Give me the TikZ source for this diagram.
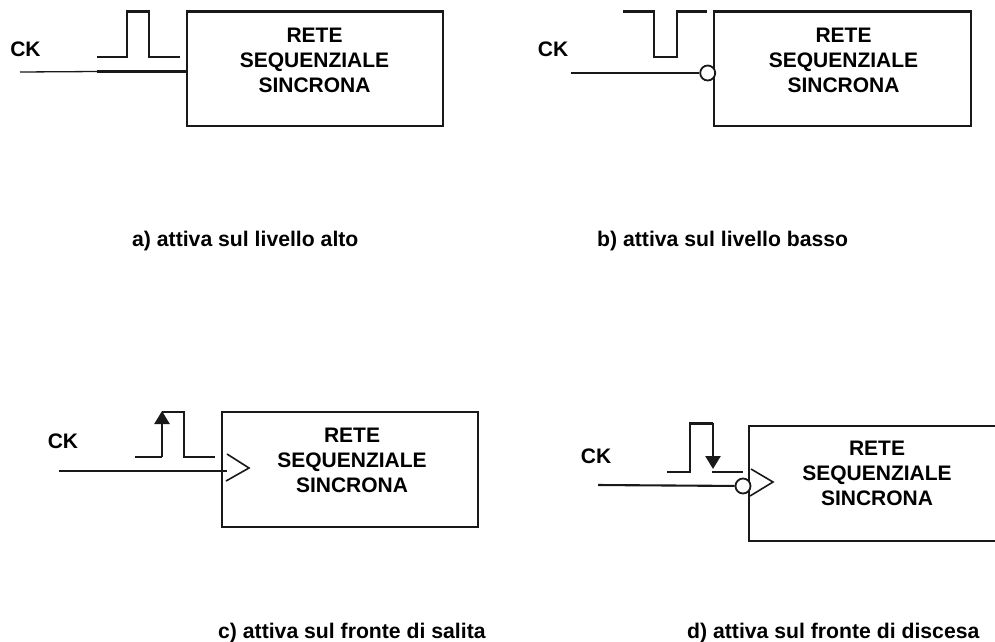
\documentclass[tikz,border=0pt]{standalone}
\usepackage{fontspec}
\setmainfont{Liberation Sans}
\usetikzlibrary{arrows.meta}
\tikzset{
  x=1pt,y=-1pt,
  wire/.style={draw=black!90,line width=2.1pt},
  thinwire/.style={draw=black!90,line width=1.3pt},
  slopewire/.style={draw=black!90,line width=1.6pt},
  netbox/.style={draw=black!90,line width=2.1pt},
  nettext/.style={align=center,font=\fontsize{21}{25}\selectfont\bfseries,inner sep=0pt},
  cklabel/.style={font=\fontsize{21}{25}\selectfont\bfseries,inner sep=0pt},
  caption/.style={font=\fontsize{21.2}{25}\selectfont\bfseries,inner sep=0pt,anchor=west},
  bubble/.style={circle,draw=black!90,fill=white,line width=1.8pt,minimum size=15pt,inner sep=0pt},
  edgearrow/.style={draw=black!90,line width=2.4pt,-{Triangle[length=13pt,width=15pt]}}
}
\begin{document}
\begin{tikzpicture}
\useasboundingbox (0,0) rectangle (995,641);
% a
\draw[netbox] (187,11.5) rectangle (442.7,126);
\node[nettext] (ta) at (314.5,60) {RETE\\SEQUENZIALE\\SINCRONA};
\node[cklabel] (cka) at (25.5,49) {CK};
\coordinate (a0) at (20,72);
\coordinate (a1) at (97,71.5);
\coordinate (a2) at (187,71.5);
\draw[thinwire] (a0) -- (a1);
\draw[wire] (a1) -- (a2);
\draw[wire] (97,57) -- (127,57) -- (127,11.5) -- (149,11.5) -- (149,57) -- (180,57);
\node[caption] (ca) at (132,241) {a) attiva sul livello alto};
% b
\draw[netbox] (714,11.5) rectangle (971,126);
\node[nettext] (tb) at (843.5,60) {RETE\\SEQUENZIALE\\SINCRONA};
\node[cklabel] (ckb) at (553,49) {CK};
\node[bubble] (bb) at (707.7,73) {};
\coordinate (b0) at (570.5,73);
\draw[wire] (b0) -- (bb);
\draw[wire] (623,11.5) -- (654,11.5) -- (654,57) -- (677,57) -- (677,11.5) -- (707,11.5);
\node[caption] (cb) at (597,241) {b) attiva sul livello basso};
% c
\draw[netbox] (222,412) rectangle (478,527);
\node[nettext] (tc) at (352,460) {RETE\\SEQUENZIALE\\SINCRONA};
\node[cklabel] (ckc) at (63,441) {CK};
\coordinate (c0) at (59,471);
\coordinate (c1) at (227,471);
\draw[wire] (c0) -- (c1);
\draw[slopewire] (227,454) -- (249,468) -- (226,481);
\draw[wire] (135,457) -- (162,457);
\draw[edgearrow] (162,457) -- (162,411);
\draw[wire] (162,412) -- (184,412) -- (184,457) -- (215,457);
\node[caption] (cc) at (218,633) {c) attiva sul fronte di salita};
% d
\draw[netbox] (995,426) -- (749,426) -- (749,541) -- (995,541);
\node[nettext] (td) at (877,473.5) {RETE\\SEQUENZIALE\\SINCRONA};
\node[cklabel] (ckd) at (596,456) {CK};
\draw[slopewire] (751,469) -- (773,482) -- (750,496);
\node[bubble] (bd) at (743,486) {};
\coordinate (d0) at (598,485);
\draw[wire] (d0) -- (bd);
\draw[wire] (667,472) -- (690,472) -- (690,423.5) -- (713,423.5);
\draw[edgearrow] (713,422.5) -- (713,469);
\draw[wire] (712,472) -- (743,472);
\node[caption] (cd) at (687,633) {d) attiva sul fronte di discesa};
\end{tikzpicture}
\end{document}
